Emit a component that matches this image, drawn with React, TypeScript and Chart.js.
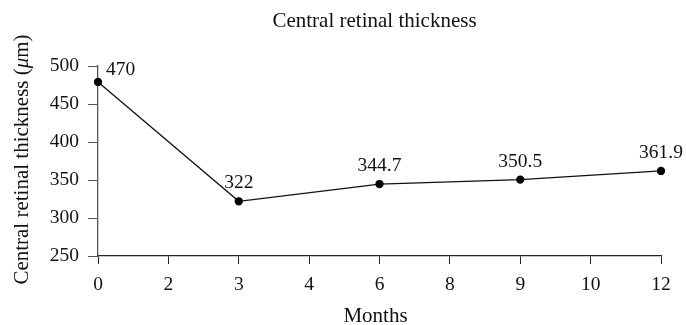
import React, { useEffect, useRef } from 'react';
import { Chart, registerables } from 'chart.js';

Chart.register(...registerables);

const chartTitle = 'Central retinal thickness';
const xTitle = 'Months';
const yTitleParts = ['Central retinal thickness (', 'μ', 'm)'];
const months = ['0', '2', '3', '4', '6', '8', '9', '10', '12'];
const measuredMonths = ['0', '3', '6', '9', '12'];
const thickness = [479, 322, 344.7, 350.5, 361.9];
const valueLabels = ['470', '322', '344.7', '350.5', '361.9'];
const yMin = 250;
const yMax = 500;
const yStep = 50;

const FONT = '"Liberation Serif", "DejaVu Serif", serif';
const TICK_SIZE = 19.5;
const TITLE_SIZE = 21;

const textPlugin = {
  id: 'textPlugin',
  afterDatasetsDraw(chart: any) {
    const ctx = chart.ctx;
    const meta = chart.getDatasetMeta(0);
    const area = chart.chartArea;
    ctx.save();
    ctx.fillStyle = '#111';
    // value labels
    ctx.font = `${TICK_SIZE}px ${FONT}`;
    ctx.textBaseline = 'middle';
    meta.data.forEach((pt: any, i: number) => {
      const text = valueLabels[i];
      if (i === 0) {
        ctx.textAlign = 'left';
        ctx.fillText(text, pt.x + 8, pt.y - 12);
      } else {
        ctx.textAlign = 'center';
        ctx.fillText(text, pt.x, pt.y - 18);
      }
    });
    // chart title
    const cx = (area.left + area.right) / 2 - 5;
    ctx.font = `${TITLE_SIZE}px ${FONT}`;
    ctx.textAlign = 'center';
    ctx.textBaseline = 'alphabetic';
    ctx.fillText(chartTitle, cx, 27);
    // x title
    ctx.fillText(xTitle, cx + 1, 322);
    // y title (rotated, italic mu)
    const fonts = [`${TITLE_SIZE}px ${FONT}`, `italic ${TITLE_SIZE}px ${FONT}`, `${TITLE_SIZE}px ${FONT}`];
    const widths = yTitleParts.map((t, i) => {
      ctx.font = fonts[i];
      return ctx.measureText(t).width;
    });
    const total = widths.reduce((a, b) => a + b, 0);
    ctx.translate(28, (area.top + area.bottom) / 2 - 1.5);
    ctx.rotate(-Math.PI / 2);
    ctx.textAlign = 'left';
    let x = -total / 2;
    yTitleParts.forEach((t, i) => {
      ctx.font = fonts[i];
      ctx.fillText(t, x, 0);
      x += widths[i];
    });
    ctx.restore();
  },
};

export default function App() {
  const ref = useRef<HTMLCanvasElement | null>(null);
  useEffect(() => {
    document.body.style.margin = '0';
    const chart = new Chart(ref.current as HTMLCanvasElement, {
      type: 'line',
      data: {
        labels: months,
        datasets: [
          {
            data: measuredMonths.map((m, i) => ({ x: m, y: thickness[i] })),
            borderColor: '#111',
            borderWidth: 1.3,
            pointBackgroundColor: '#000',
            pointBorderColor: '#000',
            pointRadius: 3.5,
            spanGaps: true,
            tension: 0,
          },
        ],
      },
      options: {
        animation: false,
        responsive: false,
        maintainAspectRatio: false,
        layout: { padding: { left: 0, right: 25, top: 66, bottom: 0 } },
        plugins: {
          legend: { display: false },
          tooltip: { enabled: false },
          title: { display: false },
        },
        scales: {
          x: {
            type: 'category',
            offset: false,
            afterFit: (s: any) => {
              s.height = 69;
            },
            grid: { drawOnChartArea: false, drawTicks: true, tickLength: 8, color: '#222' },
            border: { display: true, color: '#222', width: 1.3 },
            ticks: { color: '#111', font: { family: FONT, size: TICK_SIZE }, padding: 9, maxRotation: 0, autoSkip: false },
          },
          y: {
            min: yMin,
            max: yMax,
            afterFit: (s: any) => {
              s.width = 98;
            },
            grid: { drawOnChartArea: false, drawTicks: true, tickLength: 10, color: '#555' },
            border: { display: true, color: '#555', width: 1.3 },
            ticks: { stepSize: yStep, color: '#111', font: { family: FONT, size: TICK_SIZE }, padding: 9 },
          },
        },
      },
      plugins: [textPlugin],
    });
    return () => chart.destroy();
  }, []);
  return (
    <div style={{ width: 686, height: 325 }}>
      <canvas ref={ref} width={686} height={325} style={{ display: 'block' }} />
    </div>
  );
}
